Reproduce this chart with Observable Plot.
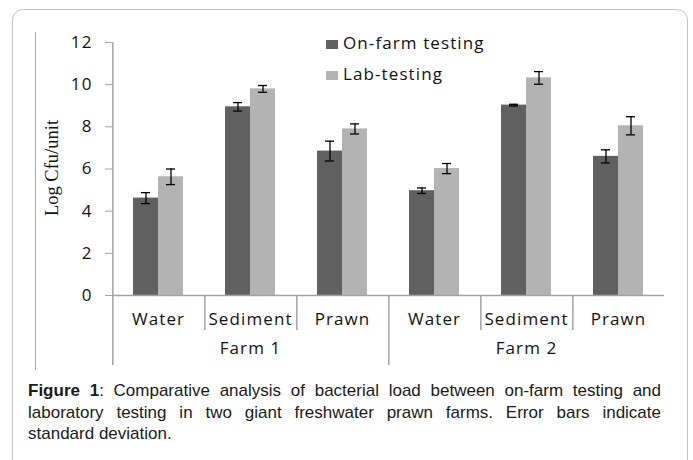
<!DOCTYPE html>
<html>
<head>
<meta charset="utf-8">
<script src="https://cdn.jsdelivr.net/npm/d3@7"></script>
<script src="https://cdn.jsdelivr.net/npm/@observablehq/plot@0.6"></script>
<style>
  html, body { margin: 0; padding: 0; background: #fff; }
  #wrap { position: relative; width: 693px; height: 460px; overflow: hidden; }
  #outer { position: absolute; left: 12px; top: 9px; width: 676px; height: 500px;
           border: 1.5px solid #c4c4c4; border-radius: 11px; box-sizing: border-box; }
  #inner { position: absolute; left: 35px; top: 32px; width: 0; height: 338px;
           border-left: 1.3px solid #a8a8a8; }
  #chart { position: absolute; left: 0; top: 0; }
  #ylabel { position: absolute; left: -8.5px; top: 158px; width: 120px; line-height: 20px;
            text-align: center; font-family: "Liberation Serif", serif; font-size: 18.5px;
            color: #111; transform: rotate(-90deg); transform-origin: 50% 50%; white-space: nowrap; }
  .leg { position: absolute; left: 326px; font-family: "Open Sans", sans-serif; font-size: 17px;
         letter-spacing: 1.1px; line-height: 20px; color: #111; white-space: nowrap; }
  .leg .sw { position: absolute; left: 0; width: 12px; height: 9px; }
  .leg span.t { position: absolute; left: 17px; top: 0; }
  #caption { position: absolute; left: 28px; top: 380px; width: 633px;
             font-family: "Liberation Sans", Arial, sans-serif; font-size: 17px; line-height: 21.5px; color: #1a1a1a; }
  #caption .j { text-align: justify; text-align-last: justify; }
</style>
</head>
<body>
<div id="wrap">
  <div id="outer"></div>
  <div id="inner"></div>
  <div id="chart"></div>
  <div id="ylabel">Log Cfu/unit</div>
  <div id="legend"></div>
  <div id="caption"></div>
</div>
<script>
// ---- data ----
const farms = ["Farm 1", "Farm 2"];
const sites = ["Water", "Sediment", "Prawn"];
const series = ["On-farm testing", "Lab-testing"];
const onFarmMean = [4.62, 8.95, 6.85, 4.97, 9.03, 6.60];
const onFarmSD   = [0.26, 0.20, 0.47, 0.13, 0.04, 0.31];
const labMean    = [5.63, 9.80, 7.90, 6.02, 10.32, 8.05];
const labSD      = [0.37, 0.16, 0.24, 0.24, 0.30, 0.43];
const yTicks = [0, 2, 4, 6, 8, 10, 12];
const colors = ["#606060", "#b3b3b3"];
const yLabel = "Log Cfu/unit";
const captionBold = "Figure 1";
const captionLines = [
  ": Comparative analysis of bacterial load between on-farm testing and",
  "laboratory testing in two giant freshwater prawn farms. Error bars indicate",
  "standard deviation."
];

// ---- tables ----
const cats = farms.flatMap(f => sites.map(s => f + "|" + s));
const rows = cats.flatMap((c, i) => [
  {cat: c, series: series[0], value: onFarmMean[i], sd: onFarmSD[i]},
  {cat: c, series: series[1], value: labMean[i], sd: labSD[i]}
]);
const catRows = cats.map(c => ({cat: c, farm: c.split("|")[0], site: c.split("|")[1]}));

// ---- layout ----
const W = 693, H = 370, mL = 111, mR = 28, mT = 42, mB = 75;
const pOuter = 0.775;
const bandW = (W - mL - mR) / cats.length;
const xStep = bandW / (series.length + 2 * pOuter);
const edgeDx = -(pOuter * xStep + xStep / 2);   // from band center to facet left edge
const axisGray = "#a3a3a3";

const chart = Plot.plot({
  width: W, height: H,
  marginLeft: mL, marginRight: mR, marginTop: mT, marginBottom: mB,
  style: {fontFamily: "Open Sans, sans-serif", fontSize: "17px", letterSpacing: "1.1px",
          background: "none", color: "#111", overflow: "visible"},
  fx: {domain: cats, padding: 0, label: null},
  x: {domain: series, paddingInner: 0, paddingOuter: pOuter, axis: null},
  y: {domain: [0, 12], axis: null},
  color: {domain: series, range: colors},
  marks: [
    Plot.barY(rows, {fx: "cat", x: "series", y: "value", fill: "series"}),
    Plot.ruleY([0], {stroke: axisGray, strokeWidth: 1.5}),
    // y axis line
    Plot.ruleX(catRows.slice(0, 1), {fx: "cat", x: () => series[0], dx: edgeDx,
      y1: () => yTicks[yTicks.length - 1], y2: () => 0, insetBottom: -70, stroke: axisGray, strokeWidth: 1.5}),
    // farm boundary
    Plot.ruleX(catRows.filter((d, i) => d.site === sites[0] && i > 0), {fx: "cat", x: () => series[0], dx: edgeDx,
      y1: () => 0, y2: () => 0, insetBottom: -70, stroke: axisGray, strokeWidth: 1.5}),
    // category separators
    Plot.ruleX(catRows.filter(d => d.site !== sites[0]), {fx: "cat", x: () => series[0], dx: edgeDx,
      y1: () => 0, y2: () => 0, insetBottom: -35, stroke: axisGray, strokeWidth: 1.5}),
    Plot.axisY({ticks: yTicks, tickSize: 7, tickPadding: 13, stroke: axisGray, fill: "#111", fontSize: 17, label: null}),
    Plot.axisFx({anchor: "bottom", tickSize: 0, tickPadding: 17, fontSize: 17, fill: "#111",
      tickFormat: d => d.split("|")[1], label: null}),
    Plot.text(farms, {fx: f => f + "|" + sites[1], text: d => d, frameAnchor: "bottom", dy: 58.5,
      fontSize: 17, fill: "#111"}),
    // error bars
    Plot.ruleX(rows, {fx: "cat", x: "series", y1: d => d.value - d.sd, y2: d => d.value + d.sd,
      stroke: "#000", strokeWidth: 1.3}),
    Plot.tickY(rows, {fx: "cat", x: "series", y: d => d.value - d.sd, insetLeft: 8, insetRight: 8,
      stroke: "#000", strokeWidth: 1.3}),
    Plot.tickY(rows, {fx: "cat", x: "series", y: d => d.value + d.sd, insetLeft: 8, insetRight: 8,
      stroke: "#000", strokeWidth: 1.3})
  ]
});
document.getElementById("chart").appendChild(chart);
document.getElementById("ylabel").textContent = yLabel;

// legend
const legend = document.getElementById("legend");
const legTops = [33.4, 64.4];
series.forEach((s, i) => {
  const row = document.createElement("div");
  row.className = "leg";
  row.style.top = legTops[i] + "px";
  const sw = document.createElement("div");
  sw.className = "sw";
  sw.style.background = colors[i];
  sw.style.top = "6.6px";
  const t = document.createElement("span");
  t.className = "t";
  t.textContent = s;
  row.appendChild(sw);
  row.appendChild(t);
  legend.appendChild(row);
});

// caption
const cap = document.getElementById("caption");
captionLines.forEach((line, i) => {
  const div = document.createElement("div");
  if (i < captionLines.length - 1) div.className = "j";
  if (i === 0) {
    const b = document.createElement("b");
    b.textContent = captionBold;
    div.appendChild(b);
  }
  div.appendChild(document.createTextNode(line));
  cap.appendChild(div);
});
</script>
</body>
</html>
